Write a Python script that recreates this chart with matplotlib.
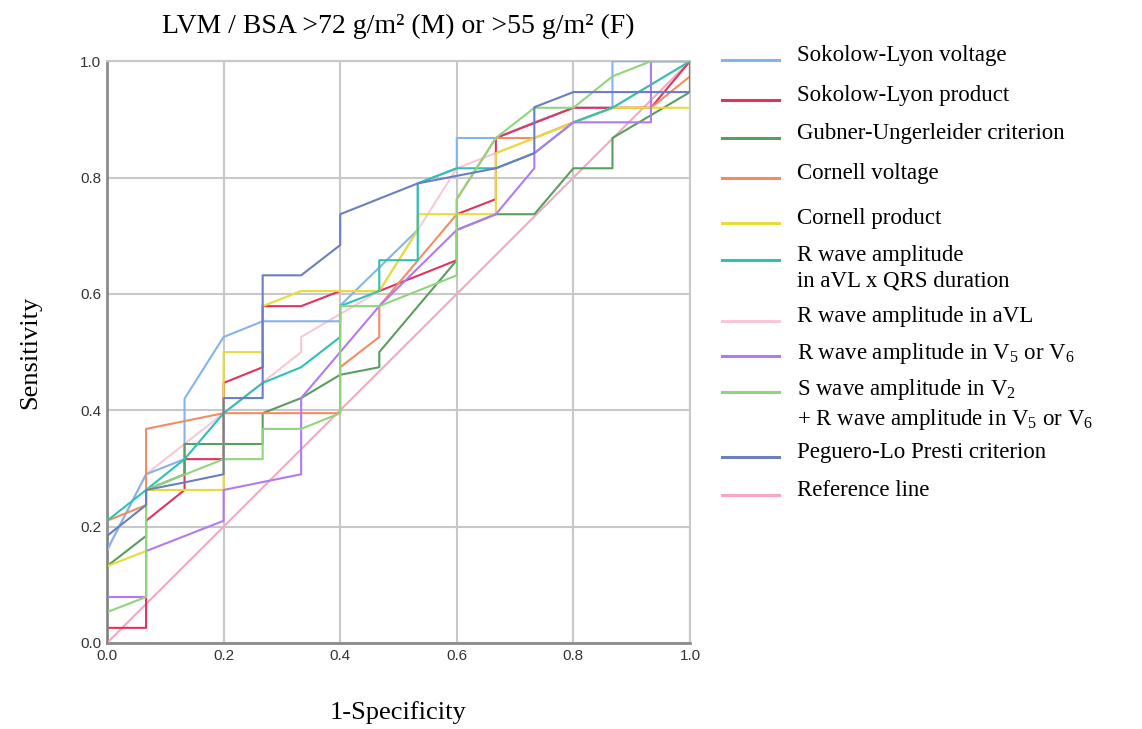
import matplotlib
matplotlib.use("Agg")
import matplotlib.pyplot as plt
from matplotlib.lines import Line2D

plt.rcParams['mathtext.fontset'] = 'custom'
plt.rcParams['mathtext.rm'] = 'Liberation Serif'
plt.rcParams['mathtext.it'] = 'Liberation Serif:italic'

# ROC curves: (1-specificity, sensitivity)
sl_voltage_x = [0, 0, 0.067, 0.133, 0.133, 0.2, 0.267, 0.4, 0.4, 0.533, 0.533, 0.6, 0.6, 0.667, 0.733, 0.8, 0.867, 0.867, 1.0]
sl_voltage_y = [0, 0.16, 0.29, 0.316, 0.42, 0.526, 0.553, 0.553, 0.58, 0.71, 0.79, 0.816, 0.868, 0.868, 0.895, 0.92, 0.92, 1.0, 1.0]

sl_product_x = [0, 0, 0.067, 0.067, 0.133, 0.133, 0.2, 0.2, 0.267, 0.267, 0.333, 0.4, 0.467, 0.6, 0.6, 0.667, 0.667, 0.8, 0.933, 1.0]
sl_product_y = [0, 0.026, 0.026, 0.21, 0.263, 0.316, 0.316, 0.447, 0.474, 0.579, 0.579, 0.605, 0.605, 0.658, 0.737, 0.763, 0.868, 0.92, 0.92, 1.0]

gubner_x = [0, 0, 0.067, 0.067, 0.133, 0.133, 0.267, 0.267, 0.333, 0.4, 0.467, 0.467, 0.6, 0.6, 0.667, 0.733, 0.8, 0.867, 0.867, 1.0, 1.0]
gubner_y = [0, 0.132, 0.184, 0.263, 0.29, 0.342, 0.342, 0.395, 0.421, 0.461, 0.474, 0.5, 0.658, 0.71, 0.737, 0.737, 0.816, 0.816, 0.868, 0.947, 1.0]

cornell_v_x = [0, 0, 0.067, 0.067, 0.2, 0.4, 0.4, 0.467, 0.467, 0.6, 0.6, 0.667, 0.733, 0.8, 0.867, 0.933, 1.0, 1.0]
cornell_v_y = [0, 0.21, 0.237, 0.368, 0.395, 0.395, 0.474, 0.526, 0.579, 0.737, 0.763, 0.868, 0.868, 0.895, 0.92, 0.92, 0.974, 1.0]

cornell_p_x = [0, 0, 0.067, 0.067, 0.2, 0.2, 0.267, 0.267, 0.333, 0.467, 0.533, 0.533, 0.667, 0.667, 0.733, 0.867, 1.0, 1.0]
cornell_p_y = [0, 0.132, 0.158, 0.263, 0.263, 0.5, 0.5, 0.579, 0.605, 0.605, 0.71, 0.737, 0.737, 0.842, 0.868, 0.92, 0.92, 1.0]

ravl_qrs_x = [0, 0, 0.067, 0.133, 0.2, 0.267, 0.333, 0.4, 0.4, 0.467, 0.467, 0.533, 0.533, 0.6, 0.667, 0.733, 0.8, 0.867, 1.0]
ravl_qrs_y = [0, 0.21, 0.263, 0.316, 0.395, 0.447, 0.474, 0.526, 0.579, 0.605, 0.658, 0.658, 0.79, 0.816, 0.816, 0.842, 0.895, 0.92, 1.0]

ravl_x = [0, 0, 0.067, 0.2, 0.333, 0.333, 0.467, 0.6, 0.867, 1.0]
ravl_y = [0, 0.158, 0.29, 0.395, 0.5, 0.526, 0.605, 0.816, 0.92, 1.0]

rv56_x = [0, 0, 0.067, 0.067, 0.2, 0.2, 0.333, 0.333, 0.4, 0.467, 0.6, 0.667, 0.733, 0.733, 0.8, 0.933, 0.933, 1.0]
rv56_y = [0, 0.079, 0.079, 0.158, 0.21, 0.263, 0.29, 0.421, 0.5, 0.579, 0.71, 0.737, 0.816, 0.842, 0.895, 0.895, 1.0, 1.0]

sv2_rv56_x = [0, 0, 0.067, 0.067, 0.2, 0.267, 0.267, 0.333, 0.4, 0.4, 0.467, 0.6, 0.6, 0.667, 0.733, 0.8, 0.867, 0.933, 1.0]
sv2_rv56_y = [0, 0.053, 0.079, 0.263, 0.316, 0.316, 0.368, 0.368, 0.395, 0.579, 0.579, 0.632, 0.763, 0.868, 0.92, 0.92, 0.974, 1.0, 1.0]

peguero_x = [0, 0, 0.067, 0.067, 0.133, 0.2, 0.2, 0.267, 0.267, 0.333, 0.4, 0.4, 0.533, 0.6, 0.667, 0.733, 0.733, 0.8, 1.0, 1.0]
peguero_y = [0, 0.184, 0.237, 0.263, 0.276, 0.29, 0.421, 0.421, 0.632, 0.632, 0.684, 0.737, 0.79, 0.803, 0.816, 0.842, 0.921, 0.947, 0.947, 1.0]

ref_x = [0, 1]
ref_y = [0, 1]

labels = [
    "Sokolow-Lyon voltage",
    "Sokolow-Lyon product",
    "Gubner-Ungerleider criterion",
    "Cornell voltage",
    "Cornell product",
    "R wave amplitude\nin aVL x QRS duration",
    "R wave amplitude in aVL",
    r"R wave amplitude in V$_5$ or V$_6$",
    "S wave amplitude in V$_2$\n+ R wave amplitude in V$_5$ or V$_6$",
    "Peguero-Lo Presti criterion",
    "Reference line",
]
colors = ["#86b3ea", "#e0345c", "#5a9e5e", "#f28c64", "#e6dc3a", "#2ec2b2",
          "#f8c8d8", "#b27af0", "#90d47e", "#6a7ec0", "#f4a8c4"]
curves = [(sl_voltage_x, sl_voltage_y), (sl_product_x, sl_product_y), (gubner_x, gubner_y),
          (cornell_v_x, cornell_v_y), (cornell_p_x, cornell_p_y), (ravl_qrs_x, ravl_qrs_y),
          (ravl_x, ravl_y), (rv56_x, rv56_y), (sv2_rv56_x, sv2_rv56_y),
          (peguero_x, peguero_y), (ref_x, ref_y)]

fig = plt.figure(figsize=(11.42, 7.29), dpi=100)
ax = fig.add_axes([0.0937, 0.118, 0.5105, 0.798])

# reference line underneath, then the curves
order = [10, 6, 0, 1, 2, 3, 4, 5, 7, 8, 9]
for i in order:
    xs, ys = curves[i]
    ax.plot(xs, ys, color=colors[i], lw=1.5, zorder=3)

ax.set_xlim(0, 1)
ax.set_ylim(0, 1)
ticks = [0, 0.2, 0.4, 0.6, 0.8, 1.0]
tick_labels = ["0.0", "0.2", "0.4", "0.6", "0.8", "1.0"]
ax.set_xticks(ticks)
ax.set_yticks(ticks)
ax.set_xticklabels(tick_labels, family="Liberation Sans", fontsize=11, color="#333333")
ax.set_yticklabels(tick_labels, family="Liberation Sans", fontsize=11, color="#333333")
ax.tick_params(length=0, pad=4)
ax.grid(True, color="#c8c8c8", lw=1.5, zorder=0)
for s in ["top", "right"]:
    ax.spines[s].set_color("#c8c8c8")
    ax.spines[s].set_linewidth(1.5)
for s in ["left", "bottom"]:
    ax.spines[s].set_color("#8c8c8c")
    ax.spines[s].set_linewidth(2)

ax.set_title("LVM / BSA >72 g/m² (M) or >55 g/m² (F)", family="Liberation Serif", fontsize=20, pad=20)
ax.set_xlabel("1-Specificity", family="Liberation Serif", fontsize=19, labelpad=28)
ax.set_ylabel("Sensitivity", family="Liberation Serif", fontsize=19, labelpad=28)

# legend drawn by hand so the swatch sits on the first line of each entry
leg_y = [60, 100, 138, 178, 223, 260, 321, 356, 392, 457, 495]
for i, lab in enumerate(labels):
    yf = 1 - leg_y[i] / 729
    fig.add_artist(Line2D([722 / 1142, 779 / 1142], [yf, yf], color=colors[i], lw=2.2,
                          transform=fig.transFigure))
    # text raised so its first line is centred on the swatch
    fig.text(797 / 1142, yf + 15 / 729, lab, family="Liberation Serif", fontsize=16.5, va="top",
             ha="left", linespacing=1.3, transform=fig.transFigure)

fig.savefig("out.png", dpi=100)
